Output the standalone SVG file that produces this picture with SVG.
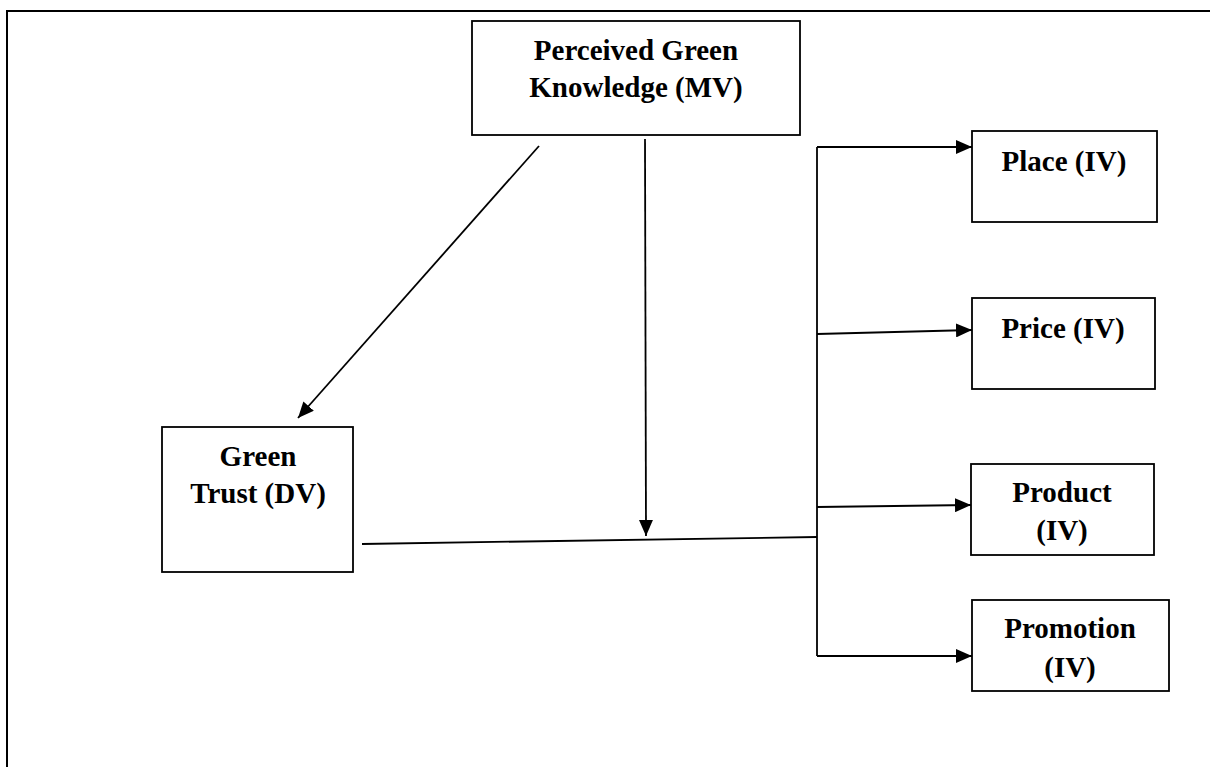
<svg xmlns="http://www.w3.org/2000/svg" width="1210" height="767" viewBox="0 0 1210 767">
<style>
.box{fill:#fff;stroke:#000;stroke-width:1.8}
.lbl{font-family:"Liberation Serif","Times New Roman",serif;font-weight:bold;font-size:29px;fill:#000;text-anchor:middle}
.con{fill:none;stroke:#000;stroke-width:1.8}
.frame{fill:none;stroke:#000;stroke-width:2}
</style>
<defs>
<marker id="ah" viewBox="0 0 16 14" refX="16" refY="7" markerWidth="16" markerHeight="14" markerUnits="userSpaceOnUse" orient="auto">
<path d="M0,0 L16,7 L0,14 Z" fill="#000"/>
</marker>
</defs>
<rect width="1210" height="767" fill="#fff"/>
<path class="frame" d="M7,767 L7,11 L1210,11"/>
<g id="node-pgk">
<rect class="box" x="472" y="21" width="328" height="114"/>
<text class="lbl" x="636" y="60">Perceived Green</text>
<text class="lbl" x="636" y="97">Knowledge (MV)</text>
</g>
<g id="node-gt">
<rect class="box" x="162" y="427" width="191" height="145"/>
<text class="lbl" x="258" y="466">Green</text>
<text class="lbl" x="258" y="503">Trust (DV)</text>
</g>
<g id="node-place">
<rect class="box" x="972" y="131" width="185" height="91"/>
<text class="lbl" x="1064" y="171">Place (IV)</text>
</g>
<g id="node-price">
<rect class="box" x="972" y="298" width="183" height="91"/>
<text class="lbl" x="1063" y="338">Price (IV)</text>
</g>
<g id="node-product">
<rect class="box" x="971" y="464" width="183" height="91"/>
<text class="lbl" x="1062" y="502">Product</text>
<text class="lbl" x="1062" y="540">(IV)</text>
</g>
<g id="node-promotion">
<rect class="box" x="972" y="600" width="197" height="91"/>
<text class="lbl" x="1070" y="638">Promotion</text>
<text class="lbl" x="1070" y="677">(IV)</text>
</g>
<g id="connectors">
<line class="con" x1="539" y1="146" x2="298" y2="418" marker-end="url(#ah)"/>
<line class="con" x1="645" y1="139" x2="646" y2="536" marker-end="url(#ah)"/>
<line class="con" x1="362" y1="544" x2="817" y2="537"/>
<line class="con" x1="817" y1="147" x2="817" y2="656"/>
<line class="con" x1="817" y1="147" x2="972" y2="147" marker-end="url(#ah)"/>
<line class="con" x1="817" y1="334" x2="972" y2="330" marker-end="url(#ah)"/>
<line class="con" x1="817" y1="507" x2="971" y2="505" marker-end="url(#ah)"/>
<line class="con" x1="817" y1="656" x2="972" y2="656" marker-end="url(#ah)"/>
</g>
</svg>
